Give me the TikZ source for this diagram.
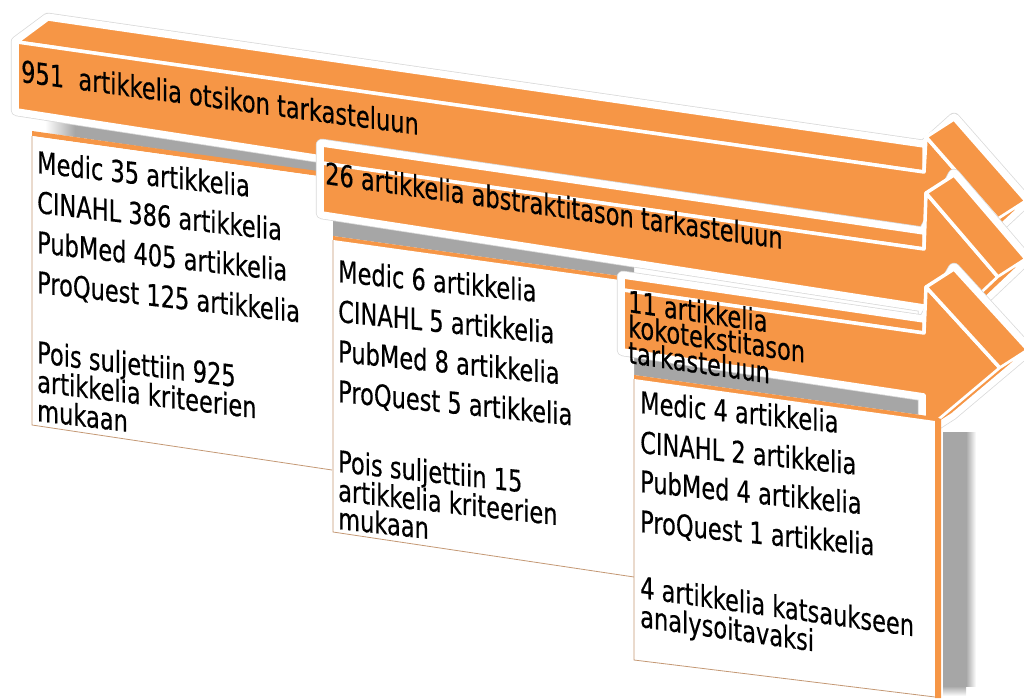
\documentclass[tikz,border=0pt]{standalone}
\usepackage{fontspec}
\setmainfont{DejaVu Sans}[FakeStretch=0.75, FakeBold=0.4]
\definecolor{arroworange}{RGB}{246,150,70}
\definecolor{shadowgrey}{RGB}{166,166,166}
\definecolor{boxline}{RGB}{196,152,116}
\begin{document}
\begin{tikzpicture}[x=1pt,y=-1pt,
    face/.style={fill=arroworange, draw=white, line width=3.5pt, line join=round},
    glow/.style={fill=white, draw=white, line width=11pt, line join=round,
      preaction={draw=gray!30, line width=12.5pt, line join=round}},
    band/.style={fill=shadowgrey},
    boxface/.style={fill=white},
    boxedge/.style={draw=boxline, line width=0.8pt},
    lbl/.style={anchor=base west, inner sep=0pt, font=\fontsize{30}{30}\selectfont}]
\useasboundingbox (0,0) rectangle (1024,698);
\clip (0,0) rectangle (1024,698);

% shadows on the box tops
\shade[left color=white, right color=shadowgrey] (45,108) -- (75,112) -- (75,137) -- (45,133) -- cycle;
\fill[band] (75,112) -- (332,148) -- (332,174) -- (75,137) -- cycle;
\fill[band] (333,205) -- (634,247) -- (634,278) -- (333,236) -- cycle;
\fill[band] (634,340) -- (935,382) -- (935,417) -- (634,375) -- cycle;

% arrow 1
\coordinate (p1tl) at (17,42);
\coordinate (p1bl) at (17,110);
\coordinate (p1tr) at (924,172);
\coordinate (p1br) at (924,250);
\coordinate (p1ht) at (926,137);
\coordinate (p1tip) at (998,219);
\coordinate (p1hb) at (924,288);
\coordinate (p1kl) at (48,19);
\coordinate (p1kr) at (924,146);
\path[glow] (p1bl) -- (p1tl) -- (p1kl) -- (p1kr) -- ([shift={(28,-18)}]p1ht) -- ([shift={(28,-18)}]p1tip)
  -- ([shift={(28,-18)}]p1hb) -- (p1hb) -- (p1br) -- cycle;
\path[face] (p1tl) -- (p1kl) -- (p1kr) -- (p1tr) -- cycle;
\path[face] (p1tl) -- (p1tr) -- (p1ht) -- (p1tip) -- (p1hb) -- (p1br) -- (p1bl) -- cycle;
\path[face] (p1ht) -- ++(28,-18) -- ([shift={(28,-18)}]p1tip) -- (p1tip) -- cycle;
\path[face, line width=2pt] (p1tip) -- ([shift={(28,-18)}]p1tip) -- ([shift={(28,-18)}]p1hb) -- (p1hb) -- cycle;

% box 1
\fill[arroworange] (32,131) -- (332,173) -- (332,178) -- (32,136) -- cycle;
\fill[boxface] (32,136) -- (332,178) -- (332,470) -- (32,425) -- cycle;
\draw[boxedge] (32,136) -- (32,425) -- (332,470);

% arrow 2
\coordinate (p2tl) at (322,163);
\coordinate (p2bl) at (322,213);
\coordinate (p2tr) at (924,249);
\coordinate (p2br) at (924,306);
\coordinate (p2ht) at (926,193);
\coordinate (p2tip) at (998,277);
\coordinate (p2hb) at (924,347);
\coordinate (p2kl) at (322,145);
\coordinate (p2kr) at (924,233);
\path[glow] (p2bl) -- (p2tl) -- (p2kl) -- (p2kr) -- ([shift={(28,-18)}]p2ht) -- ([shift={(28,-18)}]p2tip)
  -- ([shift={(28,-18)}]p2hb) -- (p2hb) -- (p2br) -- cycle;
\path[face] (p2tl) -- (p2kl) -- (p2kr) -- (p2tr) -- cycle;
\path[face] (p2tl) -- (p2tr) -- (p2ht) -- (p2tip) -- (p2hb) -- (p2br) -- (p2bl) -- cycle;
\path[face] (p2ht) -- ++(28,-18) -- ([shift={(28,-18)}]p2tip) -- (p2tip) -- cycle;
\path[face, line width=2pt] (p2tip) -- ([shift={(28,-18)}]p2tip) -- ([shift={(28,-18)}]p2hb) -- (p2hb) -- cycle;

% box 2
\fill[arroworange] (333,236) -- (634,278) -- (634,283) -- (333,241) -- cycle;
\fill[boxface] (333,240) -- (634,282) -- (634,577) -- (333,532) -- cycle;
\draw[boxedge] (333,240) -- (333,532) -- (634,577);

% arrow 3
\coordinate (p3tl) at (623,290);
\coordinate (p3bl) at (623,350);
\coordinate (p3tr) at (924,333);
\coordinate (p3br) at (924,395);
\coordinate (p3ht) at (926,287);
\coordinate (p3tip) at (1000,368);
\coordinate (p3hb) at (924,432);
\coordinate (p3kl) at (623,277);
\coordinate (p3kr) at (924,321);
\path[glow] (p3bl) -- (p3tl) -- (p3kl) -- (p3kr) -- ([shift={(28,-18)}]p3ht) -- ([shift={(28,-18)}]p3tip)
  -- ([shift={(28,-18)}]p3hb) -- (p3hb) -- (p3br) -- cycle;
\path[face] (p3tl) -- (p3kl) -- (p3kr) -- (p3tr) -- cycle;
\path[face] (p3tl) -- (p3tr) -- (p3ht) -- (p3tip) -- (p3hb) -- (p3br) -- (p3bl) -- cycle;
\path[face] (p3ht) -- ++(28,-18) -- ([shift={(28,-18)}]p3tip) -- (p3tip) -- cycle;
\path[face, line width=2pt] (p3tip) -- ([shift={(28,-18)}]p3tip) -- ([shift={(28,-18)}]p3hb) -- (p3hb) -- cycle;

% box 3 with its side and shadow
\fill[shadowgrey] (943,432) rectangle (966,686);
\shade[left color=shadowgrey, right color=white] (966,432) rectangle (976,686);
\shade[top color=shadowgrey, bottom color=white] (943,686) rectangle (966,696);
\fill[arroworange] (634,375) -- (935,417) -- (935,422) -- (634,380) -- cycle;
\fill[boxface] (634,379) -- (935,421) -- (935,697) -- (634,660) -- cycle;
\draw[boxedge] (634,379) -- (634,660) -- (935,697);
\fill[arroworange] (935,417) -- (941,419) -- (941,698) -- (935,698) -- cycle;

% texts
\node[lbl, yslant=-0.133] (h1) at (21,82) {951\ \ artikkelia otsikon tarkasteluun};
\node[lbl, yslant=-0.142] (h2) at (325,184) {26 artikkelia abstraktitason tarkasteluun};
\node[lbl, yslant=-0.145] (h3a) at (628,312) {11 artikkelia};
\node[lbl, yslant=-0.145] (h3b) at (628,337) {kokotekstitason};
\node[lbl, yslant=-0.145] (h3c) at (628,363) {tarkasteluun};

\node[lbl, yslant=-0.112] (b1a) at (37,173) {Medic 35 artikkelia};
\node[lbl, yslant=-0.112] (b1b) at (37,213) {CINAHL 386 artikkelia};
\node[lbl, yslant=-0.112] (b1c) at (37,253) {PubMed 405 artikkelia};
\node[lbl, yslant=-0.112] (b1d) at (37,293) {ProQuest 125 artikkelia};
\node[lbl, yslant=-0.12] (b1e) at (37,363) {Pois suljettiin 925};
\node[lbl, yslant=-0.12] (b1f) at (37,392) {artikkelia kriteerien};
\node[lbl, yslant=-0.12] (b1g) at (37,421) {mukaan};

\node[lbl, yslant=-0.1] (b2a) at (338,282) {Medic 6 artikkelia};
\node[lbl, yslant=-0.1] (b2b) at (338,322) {CINAHL 5 artikkelia};
\node[lbl, yslant=-0.1] (b2c) at (338,362) {PubMed 8 artikkelia};
\node[lbl, yslant=-0.1] (b2d) at (338,402) {ProQuest 5 artikkelia};
\node[lbl, yslant=-0.11] (b2e) at (338,472) {Pois suljettiin 15};
\node[lbl, yslant=-0.11] (b2f) at (338,501) {artikkelia kriteerien};
\node[lbl, yslant=-0.11] (b2g) at (338,529) {mukaan};

\node[lbl, yslant=-0.1] (b3a) at (640,413) {Medic 4 artikkelia};
\node[lbl, yslant=-0.1] (b3b) at (640,453) {CINAHL 2 artikkelia};
\node[lbl, yslant=-0.1] (b3c) at (640,492) {PubMed 4 artikkelia};
\node[lbl, yslant=-0.1] (b3d) at (640,532) {ProQuest 1 artikkelia};
\node[lbl, yslant=-0.14] (b3e) at (640,598) {4 artikkelia katsaukseen};
\node[lbl, yslant=-0.14] (b3f) at (640,627) {analysoitavaksi};
\end{tikzpicture}
\end{document}
